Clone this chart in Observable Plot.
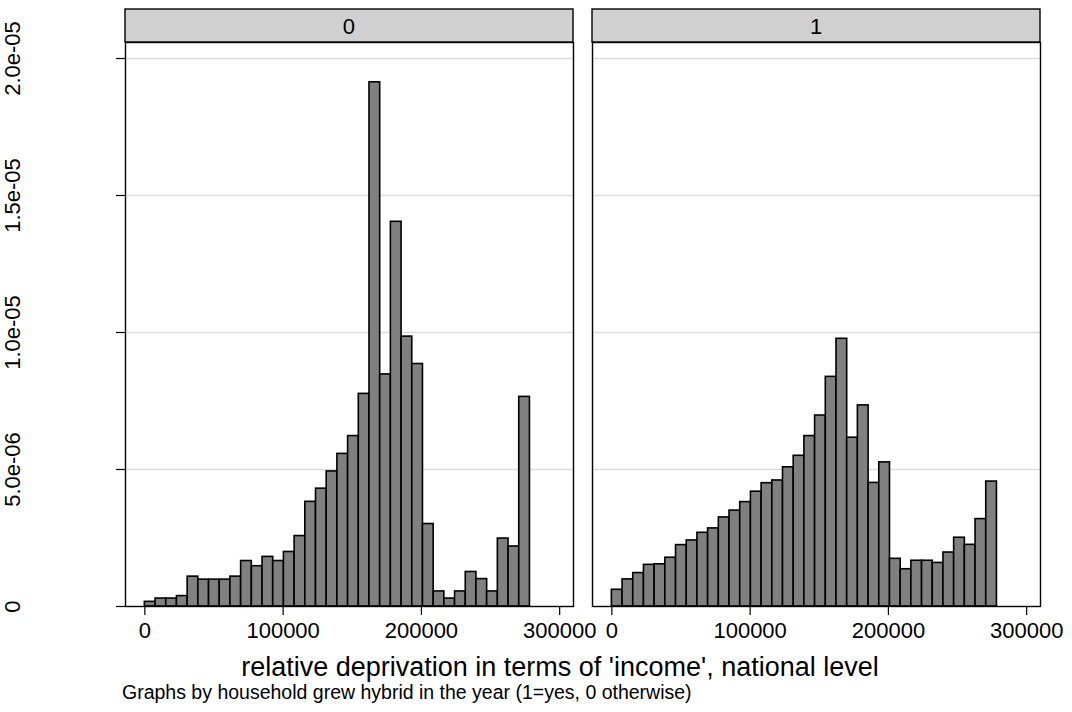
<!DOCTYPE html>
<html>
<head>
<meta charset="utf-8">
<script src="https://cdn.jsdelivr.net/npm/d3@7"></script>
<script src="https://cdn.jsdelivr.net/npm/@observablehq/plot@0.6"></script>
<style>
  html, body { margin: 0; padding: 0; background: #fff; }
  #chart { width: 1072px; height: 712px; }
</style>
</head>
<body>
<div id="chart"></div>
<script>
// Facet groups (household grew hybrid: 0 = no, 1 = yes)
const groups = ["0", "1"];
// Histogram bins: 36 bins starting at 0
const binStart = 0;
const binWidth = 7736;
// Densities (in units of 1e-6), group 0
const density0 = [0.17, 0.29, 0.29, 0.38, 1.09, 0.98, 0.98, 0.98, 1.09, 1.66, 1.47, 1.81,
  1.66, 1.99, 2.57, 3.82, 4.30, 4.93, 5.57, 6.22, 7.76, 19.13, 8.47, 14.04,
  9.85, 8.85, 3.01, 0.55, 0.29, 0.55, 1.26, 1.00, 0.55, 2.48, 2.19, 7.65];
// group 1
const density1 = [0.61, 0.99, 1.22, 1.52, 1.54, 1.78, 2.24, 2.41, 2.69, 2.85, 3.25, 3.50,
  3.81, 4.19, 4.50, 4.60, 5.08, 5.50, 6.22, 6.97, 8.38, 9.77, 6.16, 7.34,
  4.51, 5.26, 1.74, 1.36, 1.67, 1.67, 1.59, 1.97, 2.51, 2.25, 3.19, 4.56];
// Axis ticks and labels
const xTicks = [0, 100000, 200000, 300000];
const yTicks = [0, 5e-6, 1e-5, 1.5e-5, 2e-5];
const yTickLabels = ["0", "5.0e-06", "1.0e-05", "1.5e-05", "2.0e-05"];
const xTitle = "relative deprivation in terms of 'income', national level";
const caption = "Graphs by household grew hybrid in the year (1=yes, 0 otherwise)";

const bins = [];
[density0, density1].forEach((arr, g) => {
  arr.forEach((d, i) => {
    bins.push({
      group: groups[g],
      x1: binStart + i * binWidth,
      x2: binStart + (i + 1) * binWidth,
      density: d * 1e-6
    });
  });
});

const yLabelData = yTicks.map((v, i) => ({ v, label: yTickLabels[i], group: "0" }));

const W = 1072, H = 712;
const mL = 125, mR = 32, mT = 42, mB = 106;

const plot = Plot.plot({
  width: W,
  height: H,
  marginLeft: mL,
  marginRight: mR,
  marginTop: mT,
  marginBottom: mB,
  style: { fontFamily: "'Liberation Sans', Arial, sans-serif", fontSize: "22px", background: "#fff", color: "#000" },
  fx: { domain: groups, paddingInner: 0.0407, paddingOuter: 0, round: false, axis: null, label: null },
  x: { domain: [-14000, 310000], label: null },
  y: { domain: [0, 2.0584e-5], label: null },
  marks: [
    Plot.gridY(yTicks.slice(1), { stroke: "#dcdcdc", strokeOpacity: 1, strokeWidth: 1.6 }),
    Plot.rectY(bins, {
      x1: "x1", x2: "x2", y: "density", fx: "group",
      fill: "#808080", stroke: "#000", strokeWidth: 1.6
    }),
    Plot.frame({ stroke: "#000", strokeWidth: 1.4 }),
    Plot.axisX({ ticks: xTicks, tickSize: 9, tickPadding: 7, tickFormat: d => String(d), label: null, stroke: "#000", strokeWidth: 1.2 }),
    Plot.axisY({ ticks: yTicks, tickSize: 9, tickFormat: () => "", label: null, stroke: "#000", strokeWidth: 1.2 }),
    Plot.text(yLabelData, {
      y: "v", fx: "group", text: "label", frameAnchor: "left", dx: -113,
      rotate: -90, textAnchor: "middle", lineAnchor: "middle", fill: "#000"
    })
  ]
});

document.getElementById("chart").appendChild(plot);

// Facet strips
const svg = d3.select(plot);
const fxs = plot.scale("fx");
groups.forEach((g) => {
  let x0, bw;
  if (fxs && typeof fxs.apply === "function") { x0 = fxs.apply(g); bw = fxs.bandwidth; }
  if (x0 == null || !isFinite(x0) || !bw) {
    const inner = W - mL - mR;
    const step = inner / (groups.length - 0.0407);
    bw = step * (1 - 0.0407);
    x0 = mL + groups.indexOf(g) * step;
  }
  const gs = svg.append("g");
  gs.append("rect")
    .attr("x", x0).attr("y", 9).attr("width", bw).attr("height", mT - 9)
    .attr("fill", "#d0d0d0").attr("stroke", "#000").attr("stroke-width", 1.4);
  gs.append("text")
    .attr("x", x0 + bw / 2).attr("y", 26)
    .attr("text-anchor", "middle").attr("dominant-baseline", "central")
    .attr("font-size", 22).attr("fill", "#000")
    .text(g);
});

// Axis title and caption
svg.append("text")
  .attr("x", 560).attr("y", 667)
  .attr("text-anchor", "middle").attr("dominant-baseline", "central")
  .attr("font-size", 27).attr("fill", "#000")
  .text(xTitle);
svg.append("text")
  .attr("x", 122).attr("y", 692)
  .attr("text-anchor", "start").attr("dominant-baseline", "central")
  .attr("font-size", 19.5).attr("fill", "#000")
  .text(caption);
</script>
</body>
</html>
